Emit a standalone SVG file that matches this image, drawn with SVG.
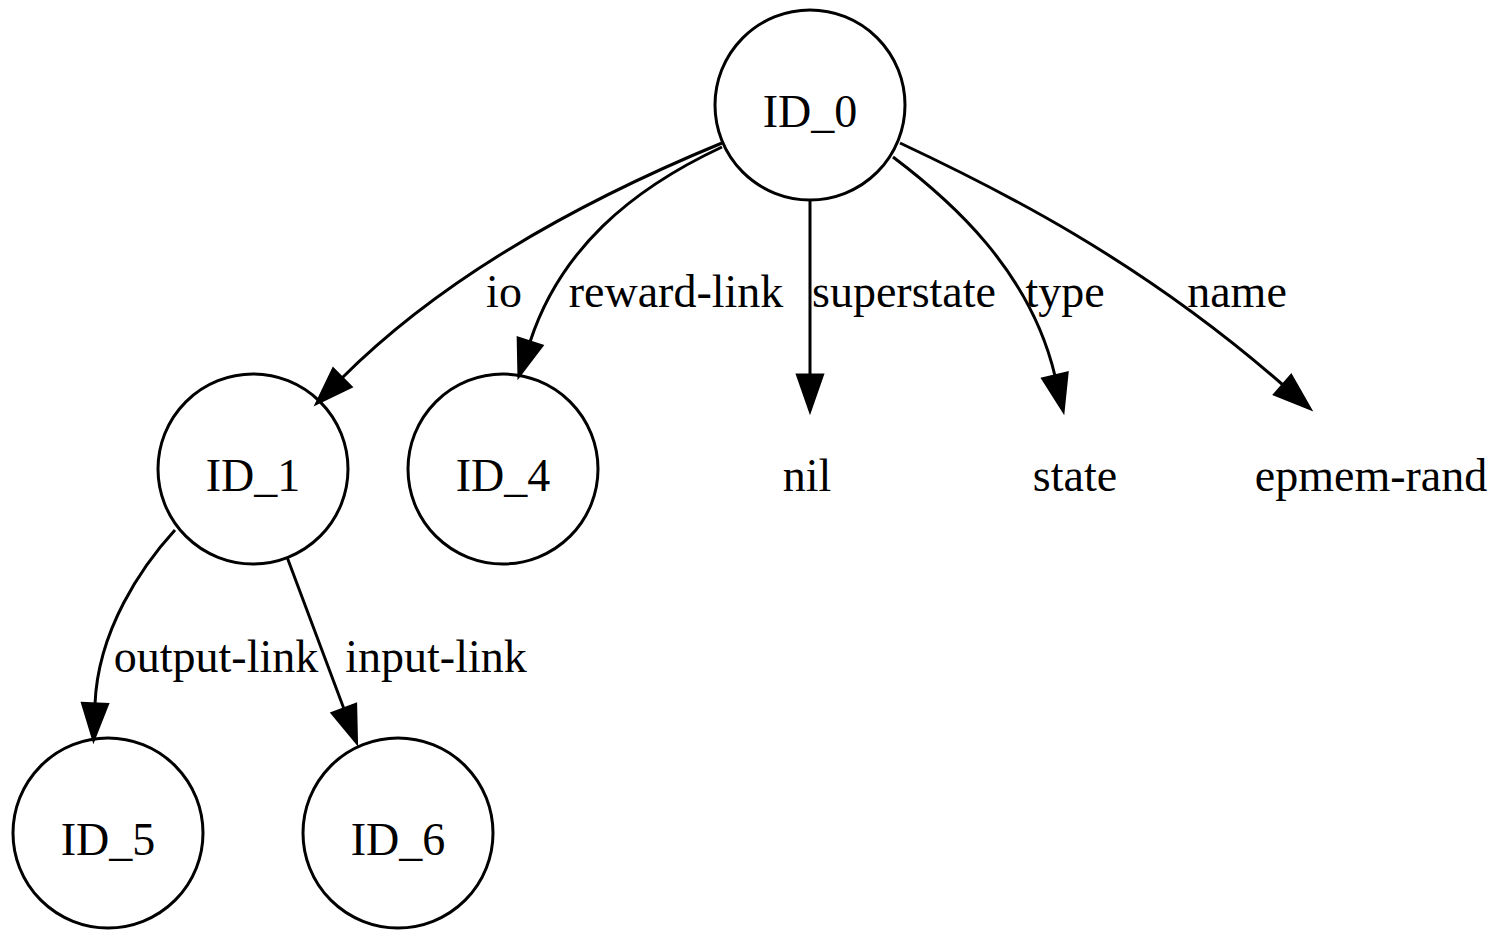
<svg xmlns="http://www.w3.org/2000/svg" width="1501" height="931" viewBox="0 0 1501 931">
  <style>
    .node circle { fill: none; stroke: #000; stroke-width: 3; }
    text { font-family: "Liberation Serif", "Times New Roman", serif; font-size: 46px; fill: #000; text-anchor: middle; }
    .edge { fill: none; stroke: #000; stroke-width: 3; marker-end: url(#arrow); }
  </style>
  <defs>
    <marker id="arrow" markerUnits="userSpaceOnUse" markerWidth="40" markerHeight="30" viewBox="0 -14 36 28" refX="0" refY="0" orient="auto" overflow="visible">
      <path d="M0,-11.5 L33,0 L0,11.5 Z" fill="#000" stroke="#000" stroke-width="3"/>
    </marker>
  </defs>
  <rect width="1501" height="931" fill="#fff"/>

  <!-- connectors -->
  <g id="edges">
    <path class="edge" d="M722,143 C620,185 460,260 342,378"/>
    <path class="edge" d="M722,147 C630,190 560,250 530,342"/>
    <path class="edge" d="M810,201 L810,375"/>
    <path class="edge" d="M893,157 C950,200 1030,270 1055,376"/>
    <path class="edge" d="M900,143 C1000,190 1140,260 1283,385"/>
    <path class="edge" d="M175,530 C142,566 98,630 95,704"/>
    <path class="edge" d="M287,557 L344,709"/>
    <text x="504" y="307">io</text>
    <text x="676" y="307">reward-link</text>
    <text x="904" y="307">superstate</text>
    <text x="1065" y="307">type</text>
    <text x="1237" y="307">name</text>
    <text x="216" y="672">output-link</text>
    <text x="436" y="672">input-link</text>
  </g>

  <!-- nodes -->
  <g id="ID_0" class="node"><circle cx="810" cy="105" r="95"/><text x="810" y="127">ID_0</text></g>
  <g id="ID_1" class="node"><circle cx="253" cy="469" r="95"/><text x="253" y="491">ID_1</text></g>
  <g id="ID_4" class="node"><circle cx="503" cy="469" r="95"/><text x="503" y="491">ID_4</text></g>
  <g id="nil" class="node"><text x="807" y="491">nil</text></g>
  <g id="state" class="node"><text x="1075" y="491">state</text></g>
  <g id="epmem-rand" class="node"><text x="1371" y="491">epmem-rand</text></g>
  <g id="ID_5" class="node"><circle cx="108" cy="833" r="95"/><text x="108" y="855">ID_5</text></g>
  <g id="ID_6" class="node"><circle cx="398" cy="833" r="95"/><text x="398" y="855">ID_6</text></g>
</svg>
